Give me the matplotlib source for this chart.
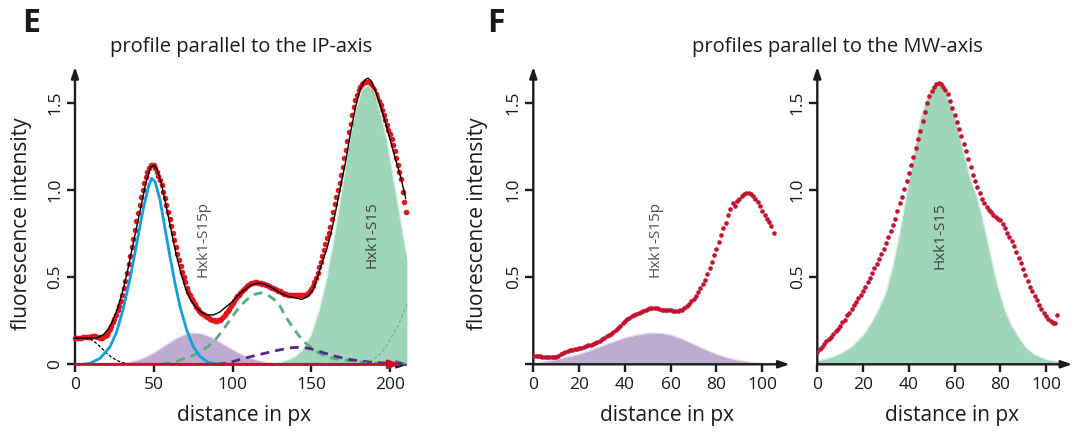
import matplotlib
matplotlib.use("Agg")
import matplotlib.pyplot as plt
import numpy as np

plt.rcParams['font.family'] = ['Open Sans', 'DejaVu Sans']

# ---------------- panel E : profile parallel to the IP-axis ----------------
# measured profile, one value per px (x = 0..210)
e_profile = [
    0.150, 0.150, 0.150, 0.152, 0.152, 0.155, 0.155, 0.155, 0.157, 0.158,
    0.158, 0.160, 0.160, 0.160, 0.158, 0.155, 0.152, 0.152, 0.155, 0.160,
    0.170, 0.185, 0.200, 0.220, 0.240, 0.260, 0.285, 0.310, 0.335, 0.365,
    0.400, 0.435, 0.480, 0.525, 0.575, 0.620, 0.670, 0.720, 0.770, 0.820,
    0.870, 0.915, 0.960, 1.000, 1.040, 1.075, 1.105, 1.125, 1.140, 1.145,
    1.140, 1.125, 1.105, 1.080, 1.055, 1.025, 0.990, 0.955, 0.915, 0.875,
    0.835, 0.795, 0.755, 0.715, 0.675, 0.635, 0.600, 0.565, 0.530, 0.500,
    0.470, 0.440, 0.415, 0.395, 0.375, 0.360, 0.345, 0.330, 0.318, 0.305,
    0.295, 0.290, 0.283, 0.277, 0.270, 0.265, 0.260, 0.256, 0.253, 0.250,
    0.250, 0.252, 0.256, 0.262, 0.270, 0.280, 0.292, 0.305, 0.318, 0.332,
    0.350, 0.365, 0.378, 0.390, 0.400, 0.410, 0.420, 0.430, 0.440, 0.448,
    0.455, 0.462, 0.466, 0.468, 0.470, 0.470, 0.468, 0.466, 0.464, 0.462,
    0.460, 0.456, 0.452, 0.448, 0.444, 0.440, 0.436, 0.432, 0.427, 0.422,
    0.418, 0.413, 0.408, 0.404, 0.401, 0.399, 0.398, 0.397, 0.397, 0.397,
    0.397, 0.397, 0.397, 0.397, 0.397, 0.398, 0.400, 0.404, 0.410, 0.420,
    0.432, 0.448, 0.470, 0.495, 0.525, 0.555, 0.585, 0.620, 0.655, 0.690,
    0.725, 0.755, 0.785, 0.830, 0.875, 0.920, 0.960, 1.000, 1.040, 1.085,
    1.130, 1.180, 1.230, 1.280, 1.330, 1.380, 1.430, 1.475, 1.515, 1.545,
    1.570, 1.590, 1.605, 1.613, 1.618, 1.620, 1.617, 1.610, 1.598, 1.585,
    1.570, 1.550, 1.530, 1.510, 1.485, 1.460, 1.430, 1.400, 1.370, 1.345,
    1.320, 1.290, 1.255, 1.220, 1.185, 1.145, 1.105, 1.060, 0.990, 0.930,
    0.875,
]

# fitted sum (black line)
e_fit_x = [0, 5, 10, 14, 18, 21, 24, 27, 30, 33, 36, 39, 42, 45, 48, 50, 52, 55,
           58, 61, 64, 67, 70, 73, 76, 80, 84, 88, 92, 96, 100, 104, 108, 112,
           116, 120, 125, 130, 135, 140, 144, 148, 151, 154, 157, 160, 163, 166,
           169, 172, 175, 178, 181, 184, 186, 188, 191, 194, 197, 200, 203, 206,
           209, 210]
e_fit_y = [0.150, 0.150, 0.150, 0.152, 0.170, 0.200, 0.250, 0.320, 0.410, 0.520,
           0.650, 0.780, 0.910, 1.040, 1.130, 1.140, 1.120, 1.030, 0.900, 0.770,
           0.640, 0.530, 0.440, 0.375, 0.335, 0.300, 0.283, 0.283, 0.300, 0.330,
           0.360, 0.400, 0.430, 0.455, 0.465, 0.460, 0.440, 0.410, 0.390, 0.380,
           0.372, 0.390, 0.425, 0.500, 0.585, 0.665, 0.770, 0.900, 1.035, 1.170,
           1.330, 1.470, 1.575, 1.630, 1.640, 1.625, 1.560, 1.480, 1.390, 1.290,
           1.190, 1.100, 0.990, 0.950]

# background component (black dashed)
e_bg_x = [0, 5, 8, 11, 14, 17, 20, 23, 26, 29, 32, 36]
e_bg_y = [0.150, 0.150, 0.148, 0.138, 0.118, 0.092, 0.065, 0.042, 0.025, 0.013,
          0.006, 0.002]

# first peak (blue)
e_blue_x = [5, 9.5, 15.9, 22.2, 26.5, 30.7, 35, 39.2, 43.4, 46.6, 48.7, 50.8, 54,
            57.1, 60.3, 63.5, 66.7, 70.9, 75.1, 79.4, 84.7, 90, 95]
e_blue_y = [0.0, 0.006, 0.034, 0.100, 0.187, 0.321, 0.493, 0.693, 0.894, 1.018,
            1.066, 1.047, 0.942, 0.779, 0.617, 0.464, 0.330, 0.197, 0.101, 0.044,
            0.011, 0.002, 0.0]

# Hxk1-S15p component (purple fill)
e_s15p_x = [25, 30, 35, 40, 45, 50, 55, 60, 65, 70, 75, 80, 85, 90, 95, 100, 105,
            110, 115, 120, 125, 130]
e_s15p_y = [0.0, 0.005, 0.012, 0.025, 0.042, 0.065, 0.095, 0.125, 0.152, 0.172,
            0.180, 0.176, 0.160, 0.138, 0.110, 0.085, 0.060, 0.040, 0.025, 0.013,
            0.006, 0.0]

# middle peak (green dashed)
e_mid_x = [55, 60, 65, 70, 75, 80, 85, 90, 95, 100, 105, 110, 114, 118, 122, 126,
           130, 134, 138, 142, 146, 150, 155, 160, 165, 170, 175, 180, 185, 190,
           200, 210]
e_mid_y = [0.0, 0.008, 0.018, 0.035, 0.050, 0.075, 0.105, 0.150, 0.210, 0.275,
           0.335, 0.378, 0.400, 0.410, 0.400, 0.375, 0.335, 0.270, 0.215, 0.165,
           0.125, 0.095, 0.065, 0.043, 0.032, 0.025, 0.020, 0.015, 0.012, 0.008,
           0.004, 0.0]

# broad component (purple dashed)
e_broad_x = [90, 95, 100, 105, 110, 115, 120, 125, 130, 135, 140, 145, 150, 155,
             160, 165, 170, 175, 180, 185, 190, 195, 200, 205, 210]
e_broad_y = [0.0, 0.006, 0.015, 0.028, 0.040, 0.052, 0.062, 0.073, 0.083, 0.092,
             0.097, 0.097, 0.088, 0.074, 0.060, 0.047, 0.036, 0.027, 0.020, 0.015,
             0.011, 0.008, 0.006, 0.004, 0.003]

# Hxk1-S15 component (green fill)
e_s15_x = [125, 130, 135, 140, 145, 150, 155, 160, 165, 170, 174, 178, 182, 186,
           190, 194, 198, 202, 206, 209, 211]
e_s15_y = [0.0, 0.010, 0.025, 0.045, 0.090, 0.170, 0.310, 0.500, 0.750, 1.030,
           1.260, 1.450, 1.570, 1.600, 1.560, 1.440, 1.280, 1.070, 0.860, 0.700,
           0.600]

# edge component (thin green dashed)
e_edge_x = [180, 185, 190, 195, 200, 205, 211]
e_edge_y = [0.0, 0.012, 0.030, 0.070, 0.140, 0.220, 0.350]

# ---------------- panel F : profiles parallel to the MW-axis ----------------
f1_profile = [
    0.048, 0.047, 0.046, 0.045, 0.044, 0.043, 0.042, 0.040, 0.039, 0.040,
    0.044, 0.050, 0.058, 0.066, 0.072, 0.077, 0.080, 0.083, 0.086, 0.088,
    0.091, 0.094, 0.099, 0.104, 0.108, 0.113, 0.118, 0.122, 0.128, 0.135,
    0.143, 0.152, 0.160, 0.168, 0.176, 0.185, 0.198, 0.210, 0.222, 0.235,
    0.248, 0.258, 0.268, 0.277, 0.285, 0.290, 0.296, 0.301, 0.305, 0.310,
    0.316, 0.320, 0.324, 0.325, 0.320, 0.316, 0.314, 0.312, 0.311, 0.310,
    0.309, 0.308, 0.308, 0.308, 0.309, 0.313, 0.322, 0.333, 0.346, 0.362,
    0.376, 0.394, 0.415, 0.435, 0.460, 0.485, 0.515, 0.550, 0.585, 0.625,
    0.660, 0.700, 0.740, 0.780, 0.810, 0.855, 0.890, 0.925, 0.910, 0.935,
    0.950, 0.962, 0.975, 0.981, 0.981, 0.975, 0.962, 0.946, 0.928, 0.906,
    0.880, 0.856, 0.833, 0.815, 0.795, 0.750,
]
f1_s15p_x = [0, 5, 10, 15, 20, 25, 30, 35, 40, 45, 50, 53, 56, 60, 65, 70, 75, 80,
             85, 90, 95, 100, 105]
f1_s15p_y = [0.008, 0.016, 0.028, 0.042, 0.058, 0.080, 0.105, 0.130, 0.152, 0.168,
             0.178, 0.180, 0.178, 0.168, 0.145, 0.115, 0.085, 0.058, 0.036, 0.022,
             0.013, 0.007, 0.004]

f2_profile = [
    0.071, 0.085, 0.100, 0.117, 0.133, 0.146, 0.158, 0.172, 0.190, 0.205,
    0.222, 0.240, 0.256, 0.280, 0.296, 0.318, 0.338, 0.358, 0.378, 0.398,
    0.420, 0.444, 0.470, 0.497, 0.523, 0.550, 0.576, 0.602, 0.630, 0.660,
    0.695, 0.727, 0.762, 0.800, 0.835, 0.880, 0.925, 0.960, 1.005, 1.050,
    1.095, 1.140, 1.190, 1.240, 1.290, 1.340, 1.395, 1.445, 1.495, 1.540,
    1.568, 1.590, 1.605, 1.612, 1.605, 1.590, 1.570, 1.547, 1.510, 1.470,
    1.430, 1.390, 1.350, 1.310, 1.265, 1.220, 1.176, 1.130, 1.085, 1.050,
    1.015, 0.980, 0.950, 0.925, 0.902, 0.887, 0.872, 0.858, 0.845, 0.835,
    0.825, 0.805, 0.780, 0.755, 0.730, 0.705, 0.680, 0.645, 0.610, 0.578,
    0.545, 0.510, 0.478, 0.445, 0.418, 0.392, 0.367, 0.340, 0.315, 0.295,
    0.277, 0.262, 0.249, 0.238, 0.235, 0.283,
]
f2_s15_x = [0, 5, 10, 15, 20, 24, 27, 30, 33, 36, 39, 42, 45, 48, 51, 53, 55, 58,
            61, 64, 67, 70, 73, 76, 79, 82, 85, 88, 91, 95, 100, 105]
f2_s15_y = [0.020, 0.035, 0.060, 0.100, 0.165, 0.245, 0.320, 0.410, 0.560, 0.750,
            0.970, 1.190, 1.400, 1.530, 1.595, 1.605, 1.585, 1.500, 1.380, 1.210,
            1.060, 0.950, 0.790, 0.610, 0.440, 0.310, 0.220, 0.155, 0.100, 0.055,
            0.028, 0.015]

# colours
RED_E = '#e3141d'
RED_F = '#c4122f'
AXIS = '#1c1c1c'
GREEN = '#5fba8b'
PURPLE = '#9373b1'

fig = plt.figure(figsize=(10.8, 4.32), dpi=100)

def px_axes(x0, x1):
    # axes position in figure pixels; y range fixed 0..1.70
    return fig.add_axes([x0 / 1080, (432 - 364.3) / 432,
                         (x1 - x0) / 1080, (364.3 - 67.7) / 432])

ax_e = px_axes(75, 75 + 1.575 * 210)
ax_f1 = px_axes(533.3, 533.3 + 2.29 * 110)
ax_f2 = px_axes(817.3, 817.3 + 2.2875 * 110)
ax_e.set_xlim(0, 210)
ax_f1.set_xlim(0, 110)
ax_f2.set_xlim(0, 110)

for ax, xend in [(ax_e, 212), (ax_f1, 112), (ax_f2, 111.5)]:
    ax.set_ylim(0, 1.70)
    for sp in ax.spines.values():
        sp.set_visible(False)
    ax.annotate('', xy=(0, 1.705), xytext=(0, 0), annotation_clip=False,
                arrowprops=dict(arrowstyle='-|>,head_length=0.65,head_width=0.22',
                                color=AXIS, lw=1.7, shrinkA=0, shrinkB=0))
    ax.annotate('', xy=(xend, 0), xytext=(0, 0), annotation_clip=False,
                arrowprops=dict(arrowstyle='-|>,head_length=0.65,head_width=0.22',
                                color=AXIS, lw=1.7, shrinkA=0, shrinkB=0))
    ax.tick_params(direction='out', length=5.8, width=1.7, color=AXIS,
                   labelsize=12.5, labelcolor='#1a1a1a')
    ax.tick_params(axis='y', pad=2.5)
    ax.tick_params(axis='x', pad=3.5)
    ax.patch.set_visible(False)

# ---- panel E
x_e = np.arange(len(e_profile))
ax_e.fill_between(e_s15p_x, e_s15p_y, color=PURPLE, alpha=0.6, lw=0, zorder=2)
ax_e.plot(e_s15p_x, e_s15p_y, color='#e4d8ec', lw=0.8, zorder=2)
ax_e.plot(x_e, e_profile, 'o', color=RED_E, ms=4.0, mec='none', zorder=3,
          clip_on=False)
ax_e.fill_between(e_s15_x, e_s15_y, color=GREEN, alpha=0.6, lw=0, zorder=4)
ax_e.plot(e_s15_x, e_s15_y, color='#d4eee0', lw=0.8, zorder=4)
ax_e.plot([e_s15_x[-1], e_s15_x[-1]], [0, e_s15_y[-1]], color='#d4eee0', lw=0.8,
          zorder=4, clip_on=False)
ax_e.plot(e_mid_x, e_mid_y, color='#4fb07f', lw=2.0, ls=(0, (3.2, 2.2)), zorder=5)
ax_e.plot(e_broad_x, e_broad_y, color='#5a2589', lw=2.0, ls=(0, (3.2, 2.2)),
          zorder=5, clip_on=False)
ax_e.plot(e_edge_x, e_edge_y, color='#5cb98b', lw=0.8, ls=(0, (3, 2)), zorder=5,
          clip_on=False)
ax_e.plot(e_bg_x, e_bg_y, color='black', lw=0.9, ls=(0, (2.5, 1.5)), zorder=5)
ax_e.plot(e_blue_x, e_blue_y, color='#109fe0', lw=2.0, zorder=6)
ax_e.plot(e_fit_x, e_fit_y, color='black', lw=1.0, zorder=7, clip_on=False)
ax_e.plot([60, 211], [-0.004, -0.004], color='#5a3fa0', lw=1.2,
          ls=(0, (3, 2)), zorder=7, clip_on=False)
ax_e.annotate('', xy=(207, 0), xytext=(0, 0), annotation_clip=False, zorder=8,
              arrowprops=dict(arrowstyle='-|>,head_length=0.7,head_width=0.25',
                              color='#c8102e', lw=2.0, shrinkA=0, shrinkB=0))
ax_e.text(81, 0.5, 'Hxk1-S15p', rotation=90, ha='center', va='bottom',
          fontsize=11, color='#505050', zorder=9)
ax_e.text(188.5, 0.55, 'Hxk1-S15', rotation=90, ha='center', va='bottom',
          fontsize=11, color='#404040', zorder=9)
ax_e.set_xticks([0, 50, 100, 150, 200])
ax_e.set_yticks([0, 0.5, 1.0, 1.5])
ax_e.set_yticklabels(['0', '0.5', '1.0', '1.5'], rotation=90, va='center')

# ---- panel F, left profile
x_f1 = np.arange(len(f1_profile))
ax_f1.fill_between(f1_s15p_x, f1_s15p_y, color=PURPLE, alpha=0.6, lw=0, zorder=2)
ax_f1.plot(f1_s15p_x, f1_s15p_y, color='#e4d8ec', lw=0.8, zorder=2)
ax_f1.plot(x_f1, f1_profile, 'o', color=RED_F, ms=3.3, mec='none', zorder=3)
ax_f1.text(53, 0.5, 'Hxk1-S15p', rotation=90, ha='center', va='bottom',
           fontsize=11, color='#505050', zorder=9)
ax_f1.set_xticks([0, 20, 40, 60, 80, 100])
ax_f1.set_yticks([0, 0.5, 1.0, 1.5])
ax_f1.set_yticklabels(['', '0.5', '1.0', '1.5'], rotation=90, va='center')

# ---- panel F, right profile
x_f2 = np.arange(len(f2_profile))
ax_f2.fill_between(f2_s15_x, f2_s15_y, color=GREEN, alpha=0.6, lw=0, zorder=2)
ax_f2.plot(f2_s15_x, f2_s15_y, color='#d4eee0', lw=0.8, zorder=2)
ax_f2.plot(x_f2, f2_profile, 'o', color=RED_F, ms=3.3, mec='none', zorder=3)
ax_f2.text(53.6, 0.545, 'Hxk1-S15', rotation=90, ha='center', va='bottom',
           fontsize=11, color='#404040', zorder=9)
ax_f2.set_xticks([0, 20, 40, 60, 80, 100])
ax_f2.set_yticks([0.5, 1.0, 1.5])
ax_f2.set_yticklabels(['0.5', '1.0', '1.5'], rotation=90, va='center')

# ---- texts
fig.text(22 / 1080, 1 - 23 / 432, 'E', fontsize=23, fontweight='bold',
         ha='left', va='center', color='#1a1a1a')
fig.text(487 / 1080, 1 - 23 / 432, 'F', fontsize=23, fontweight='bold',
         ha='left', va='center', color='#1a1a1a')
fig.text(241 / 1080, 1 - 47 / 432, 'profile parallel to the IP-axis',
         fontsize=14.5, ha='center', va='center', color='#1a1a1a')
fig.text(837 / 1080, 1 - 47 / 432, 'profiles parallel to the MW-axis',
         fontsize=14.5, ha='center', va='center', color='#1a1a1a')
for xc in [22, 477]:
    fig.text(xc / 1080, 1 - 224 / 432, 'fluorescence intensity', rotation=90,
             fontsize=15, ha='center', va='center', color='#1a1a1a')
for xc in [244, 667, 952]:
    fig.text(xc / 1080, 1 - 416 / 432, 'distance in px', fontsize=15,
             ha='center', va='center', color='#1a1a1a')

fig.savefig('out.png', dpi=100)
